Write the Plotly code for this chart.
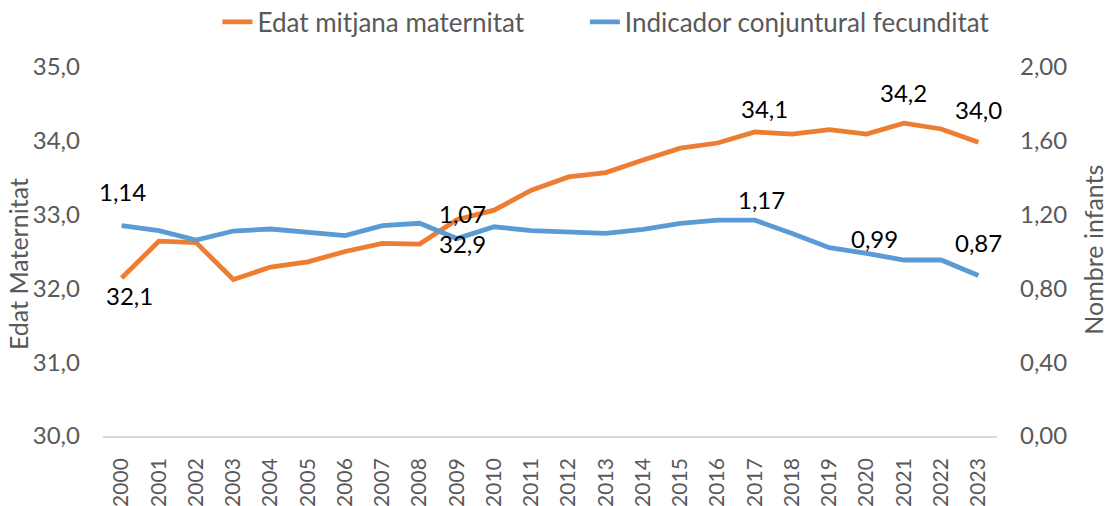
import plotly.graph_objects as go

# Birth indicators, 2000-2023
years = [str(y) for y in range(2000, 2024)]

edat_mitjana = [32.14, 32.64, 32.62, 32.12, 32.29, 32.36, 32.50, 32.61, 32.60, 32.93,
                33.06, 33.33, 33.51, 33.57, 33.74, 33.90, 33.97, 34.12, 34.09, 34.15,
                34.09, 34.24, 34.16, 33.98]

fecunditat = [1.14, 1.113, 1.062, 1.111, 1.122, 1.104, 1.086, 1.14, 1.153, 1.07,
              1.134, 1.113, 1.107, 1.098, 1.12, 1.153, 1.17, 1.17, 1.098, 1.021,
              0.99, 0.954, 0.954, 0.87]

left_ticks = [30, 31, 32, 33, 34, 35]
right_ticks = [0.0, 0.4, 0.8, 1.2, 1.6, 2.0]

# years that carry a value label, per series
edat_label_years = ["2000", "2009", "2017", "2021", "2023"]
fec_label_years = ["2000", "2009", "2017", "2020", "2023"]

# label placement offsets (pixels: x, y)
edat_offsets = {"2000": (8, -17), "2009": (6, -24), "2017": (10, 23), "2021": (0, 31), "2023": (0, 33)}
fec_offsets = {"2000": (1, 34), "2009": (6, 25), "2017": (7, 21), "2020": (8, 15), "2023": (0, 33)}

ORANGE = "#ED7D31"
BLUE = "#5B9BD5"
GREY = "#595959"
FONT = "Lato"


def fmt(v, decimals):
    return f"{v:.{decimals}f}".replace(".", ",")


fig = go.Figure()
fig.add_trace(go.Scatter(
    x=years, y=edat_mitjana, name="Edat mitjana maternitat", mode="lines",
    line=dict(color=ORANGE, width=4.8), yaxis="y", legend="legend",
))
fig.add_trace(go.Scatter(
    x=years, y=fecunditat, name="Indicador conjuntural fecunditat", mode="lines",
    line=dict(color=BLUE, width=4.8), yaxis="y2", legend="legend2",
))

annotations = []
for yr in edat_label_years:
    i = years.index(yr)
    v = edat_mitjana[i]
    dx, dy = edat_offsets[yr]
    annotations.append(dict(x=i, y=v, xref="x", yref="y", text=fmt(v, 1),
                            showarrow=False, xshift=dx, yshift=dy,
                            font=dict(family=FONT, size=24, color="#000000")))
for yr in fec_label_years:
    i = years.index(yr)
    v = fecunditat[i]
    dx, dy = fec_offsets[yr]
    annotations.append(dict(x=i, y=v, xref="x", yref="y2", text=fmt(v, 2),
                            showarrow=False, xshift=dx, yshift=dy,
                            font=dict(family=FONT, size=24, color="#000000")))

# axis titles
annotations.append(dict(x=-0.095, y=0.466, xref="paper", yref="paper", text="Edat Maternitat",
                        textangle=-90, showarrow=False, xanchor="center", yanchor="middle",
                        font=dict(family=FONT, size=25, color=GREY)))
annotations.append(dict(x=1.107, y=0.504, xref="paper", yref="paper", text="Nombre infants",
                        textangle=-90, showarrow=False, xanchor="center", yanchor="middle",
                        font=dict(family=FONT, size=25, color=GREY)))

legend_style = dict(orientation="h", y=1.122, yanchor="middle", xanchor="left",
                    font=dict(family=FONT, size=26, color=GREY), itemwidth=30,
                    bgcolor="rgba(0,0,0,0)")

fig.update_layout(
    width=1108, height=506,
    margin=dict(l=103, r=111, t=67, b=70, autoexpand=False),
    paper_bgcolor="white", plot_bgcolor="white",
    font=dict(family=FONT, size=24, color=GREY),
    showlegend=True,
    legend=dict(legend_style, x=0.128),
    legend2=dict(legend_style, x=0.539),
    xaxis=dict(type="category", range=[-0.5, len(years) - 0.5], autorange=False,
               showgrid=False, showline=True, linecolor="#D9D9D9",
               linewidth=1.5, ticks="", tickangle=-90, ticklabelstandoff=12,
               tickfont=dict(family=FONT, size=21, color=GREY), zeroline=False),
    yaxis=dict(range=[30, 35], tickvals=left_ticks,
               ticktext=[fmt(t, 1) for t in left_ticks],
               showgrid=False, zeroline=False, showline=False, ticks="",
               ticklabelstandoff=22,
               tickfont=dict(family=FONT, size=24, color=GREY)),
    yaxis2=dict(range=[0, 2], tickvals=right_ticks,
                ticktext=[fmt(t, 2) for t in right_ticks],
                overlaying="y", side="right", showgrid=False, zeroline=False,
                showline=False, ticks="", ticklabelstandoff=22,
                tickfont=dict(family=FONT, size=24, color=GREY)),
    annotations=annotations,
)

fig.write_html("out.html")
